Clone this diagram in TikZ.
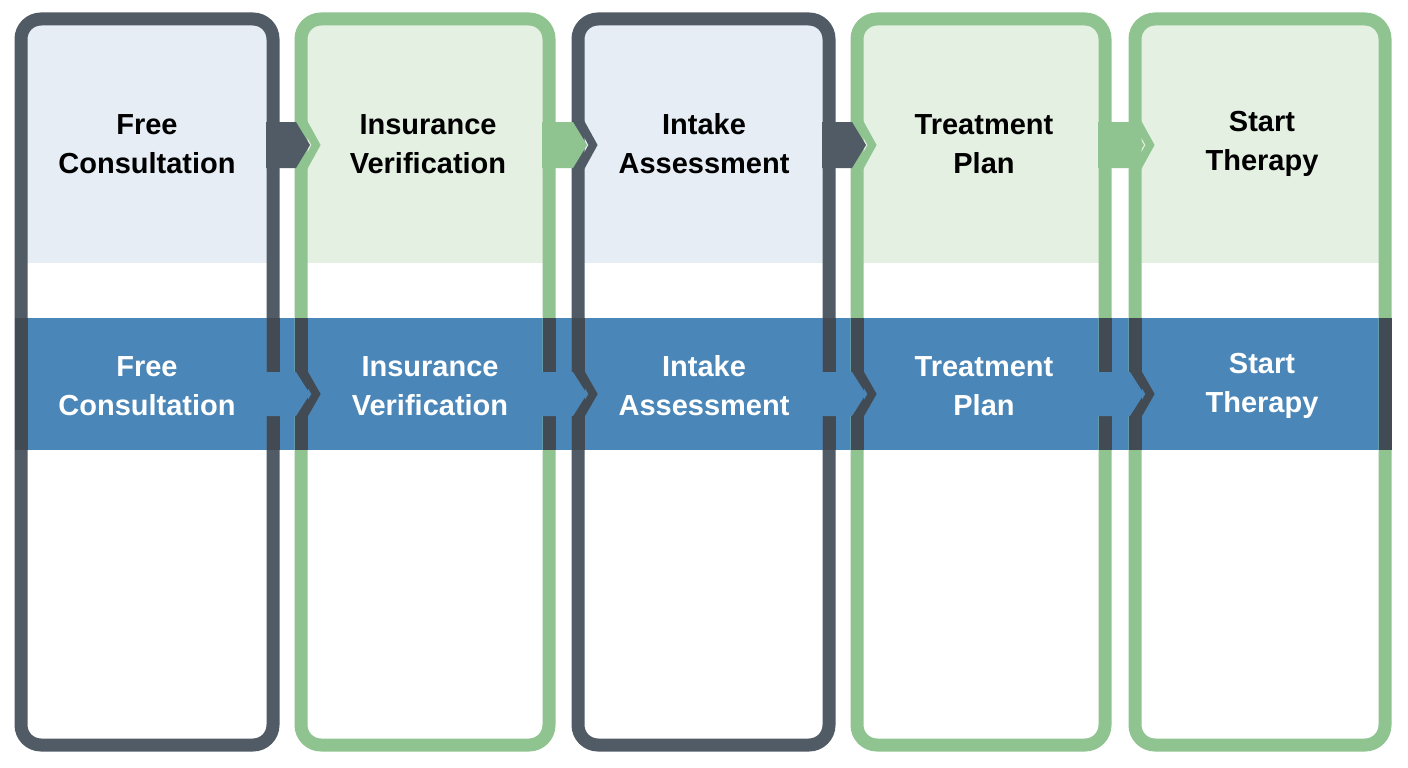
\documentclass[tikz,border=0pt]{standalone}
\usepackage{fontspec}
\setmainfont{Liberation Sans}
\usetikzlibrary{calc,positioning}
\definecolor{slate}{HTML}{505B66}
\definecolor{sage}{HTML}{8FC491}
\definecolor{paleblue}{HTML}{E6EDF5}
\definecolor{palegreen}{HTML}{E4F0E2}
\definecolor{band}{HTML}{4A86B8}
\definecolor{bandedge}{HTML}{424B53}
\begin{document}
\begin{tikzpicture}[x=1pt,y=-1pt]
    \tikzstyle{frame} = [line width=13pt, rounded corners=20pt]
    \tikzstyle{title} = [align=center, font=\bfseries\fontsize{29}{39}\selectfont]

    \useasboundingbox (0,0) rectangle (1408,768);
    \fill[white] (0,0) rectangle (1408,768);

    % light tops
    \foreach \l/\r/\c in {14/280/paleblue, 294/556/palegreen, 571/836/paleblue, 850/1112/palegreen, 1128/1392/palegreen}
      \fill[\c] (\l+10,24) rectangle (\r-10,263);

    % blue band
    \fill[band] (21,318) rectangle (1385,450);

    % columns
    \foreach \l/\r/\c in {14/280/slate, 294/556/sage, 571/836/slate, 850/1112/sage, 1128/1392/sage}
    {
      \draw[frame, \c] (\l+7,19) rectangle (\r-7,745);
      \draw[line width=13pt, bandedge] (\l+7,318) -- (\l+7,450) (\r-7,318) -- (\r-7,450);
    }

    % connectors between steps
    \foreach \r/\n/\c/\e in {280/294/slate/sage, 556/571/sage/slate, 836/850/slate/sage, 1112/1128/sage/sage}
    {
      \fill[\c] (\r-14,122) -- (\n+2,122) -- (\n+16,145) -- (\n+2,168) -- (\r-14,168) -- cycle;
      \draw[\e, line width=8pt] (\n+6,116) -- (\n+22,145) -- (\n+6,174);
      \fill[band] (\r-14,372) -- (\n+2,372) -- (\n+16,394) -- (\n+2,416) -- (\r-14,416) -- cycle;
      \draw[bandedge, line width=8pt] (\n+6,366) -- (\n+22,394) -- (\n+6,422);
    }

    \node[title] (t1) at (147,144) {Free\\Consultation};
    \node[title] (t2) at (428,144) {Insurance\\Verification};
    \node[title] (t3) at (704,144) {Intake\\Assessment};
    \node[title] (t4) at (984,144) {Treatment\\Plan};
    \node[title] (t5) at (1262,144) {Start\\Therapy};

    \node[title, white] (b1) at (147,386) {Free\\Consultation};
    \node[title, white] (b2) at (430,386) {Insurance\\Verification};
    \node[title, white] (b3) at (704,386) {Intake\\Assessment};
    \node[title, white] (b4) at (984,386) {Treatment\\Plan};
    \node[title, white] (b5) at (1262,386) {Start\\Therapy};
\end{tikzpicture}
\end{document}
